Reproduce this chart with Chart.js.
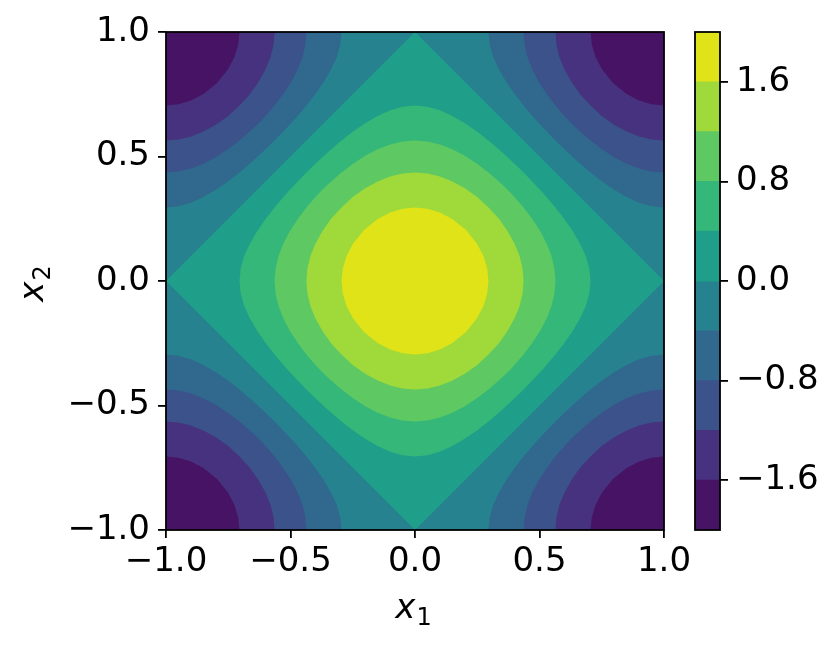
<!DOCTYPE html>
<html>
<head>
<meta charset="utf-8">
<script src="https://cdn.jsdelivr.net/npm/chart.js@4/dist/chart.umd.min.js"></script>
<style>
  html, body { margin: 0; padding: 0; background: #fff; }
  #wrap { position: relative; width: 830px; height: 664px; }
  #main { position: absolute; left: 0; top: 0; }
  #cbar { position: absolute; left: 680px; top: 0; }
</style>
</head>
<body>
<div id="wrap">
  <canvas id="main" width="830" height="664"></canvas>
  <canvas id="cbar" width="150" height="664"></canvas>
</div>
<script>
/* ------------------------------------------------------------
   data: contour levels, band colours, ticks
------------------------------------------------------------ */
const levels = [-2, -1.6, -1.2, -0.8, -0.4, 0, 0.4, 0.8, 1.2, 1.6, 2];
const bandColors = ['#471365', '#46327e', '#3b528b', '#31688e', '#26828e',
                    '#1f9e89', '#35b779', '#5ec962', '#9fda3a', '#dfe318'];
const axisTicks = [-1, -0.5, 0, 0.5, 1];
const cbarTicks = [-1.6, -0.8, 0, 0.8, 1.6];
const xLabel = ['x', '1'];
const yLabel = ['x', '2'];

// level curves, quadrant x1>=0, x2>=0 only (the plot is symmetric)
const curveM16 = [[0.705, 1], [0.71, 0.95], [0.725, 0.9], [0.751, 0.85], [0.795, 0.795],
                  [0.85, 0.751], [0.9, 0.725], [0.95, 0.71], [1, 0.705]];
const curveM12 = [[0.564, 1], [0.568, 0.95], [0.58, 0.9], [0.6, 0.85], [0.628, 0.8], [0.663, 0.75],
                  [0.705, 0.705], [0.75, 0.663], [0.8, 0.628], [0.85, 0.6], [0.9, 0.58],
                  [0.95, 0.568], [1, 0.564]];
const curveM08 = [[0.436, 1], [0.44, 0.95], [0.452, 0.9], [0.471, 0.85], [0.497, 0.8], [0.53, 0.75],
                  [0.568, 0.7], [0.612, 0.65], [0.631, 0.631], [0.65, 0.612], [0.7, 0.568],
                  [0.75, 0.53], [0.8, 0.497], [0.85, 0.471], [0.9, 0.452], [0.95, 0.44], [1, 0.436]];
const curveM04 = [[0.295, 1], [0.3, 0.95], [0.314, 0.9], [0.337, 0.85], [0.366, 0.8], [0.401, 0.75],
                  [0.44, 0.7], [0.483, 0.65], [0.529, 0.6], [0.564, 0.564], [0.6, 0.529],
                  [0.65, 0.483], [0.7, 0.44], [0.75, 0.401], [0.8, 0.366], [0.85, 0.337],
                  [0.9, 0.314], [0.95, 0.3], [1, 0.295]];
const curve00 = [[0, 1], [1, 0]];
const curve04 = [[0, 0.705], [0.05, 0.7], [0.1, 0.686], [0.15, 0.663], [0.2, 0.634], [0.25, 0.599],
                 [0.3, 0.56], [0.35, 0.517], [0.4, 0.471], [0.436, 0.436], [0.471, 0.4],
                 [0.517, 0.35], [0.56, 0.3], [0.599, 0.25], [0.634, 0.2], [0.663, 0.15],
                 [0.686, 0.1], [0.7, 0.05], [0.705, 0]];
const curve08 = [[0, 0.564], [0.05, 0.56], [0.1, 0.548], [0.15, 0.529], [0.2, 0.503], [0.25, 0.47],
                 [0.3, 0.432], [0.35, 0.388], [0.369, 0.369], [0.388, 0.35], [0.432, 0.3],
                 [0.47, 0.25], [0.503, 0.2], [0.529, 0.15], [0.548, 0.1], [0.56, 0.05], [0.564, 0]];
const curve12 = [[0, 0.436], [0.05, 0.432], [0.1, 0.42], [0.15, 0.4], [0.2, 0.372], [0.25, 0.337],
                 [0.295, 0.295], [0.337, 0.25], [0.372, 0.2], [0.4, 0.15], [0.42, 0.1],
                 [0.432, 0.05], [0.436, 0]];
const curve16 = [[0, 0.295], [0.05, 0.29], [0.1, 0.275], [0.15, 0.249], [0.205, 0.205],
                 [0.249, 0.15], [0.275, 0.1], [0.29, 0.05], [0.295, 0]];

// region above level i+1 is bounded by curves[i]
const curves = [curveM16, curveM12, curveM08, curveM04, curve00, curve04, curve08, curve12, curve16];

/* ------------------------------------------------------------
   helpers
------------------------------------------------------------ */
// one quadrant -> closed outline through all four quadrants
function mirror(q) {
    const rev = q.slice().reverse();
    return [].concat(
        q.map(p => ({ x: p[0], y: p[1] })),
        rev.map(p => ({ x: p[0], y: -p[1] })),
        q.map(p => ({ x: -p[0], y: -p[1] })),
        rev.map(p => ({ x: -p[0], y: p[1] }))
    );
}

const fmt = v => (v < 0 ? '\u2212' : '') + Math.abs(v).toFixed(1);
const tickFont = { family: 'DejaVu Sans', size: 34 };

function mathLabel(ctx, parts, cx, base) {
    ctx.font = 'italic 34px "DejaVu Sans"';
    const w1 = ctx.measureText(parts[0]).width;
    ctx.font = '24px "DejaVu Sans"';
    const w2 = ctx.measureText(parts[1]).width;
    const x0 = cx - (w1 + w2) / 2;
    ctx.fillStyle = '#000';
    ctx.textAlign = 'left';
    ctx.textBaseline = 'alphabetic';
    ctx.font = 'italic 34px "DejaVu Sans"';
    ctx.fillText(parts[0], x0, base);
    ctx.font = '24px "DejaVu Sans"';
    ctx.fillText(parts[1], x0 + w1 + 1, base + 7);
}

/* ------------------------------------------------------------
   plugins
------------------------------------------------------------ */
const contourFill = {
    id: 'contourFill',
    beforeDatasetsDraw(chart) {
        const a = chart.chartArea, ctx = chart.ctx;
        ctx.save();
        ctx.fillStyle = bandColors[0];
        ctx.fillRect(a.left, a.top, a.right - a.left, a.bottom - a.top);
        ctx.restore();
    },
    beforeDatasetDraw(chart, args) {
        const a = chart.chartArea, ctx = chart.ctx;
        const sx = chart.scales.x, sy = chart.scales.y;
        const ds = chart.data.datasets[args.index];
        ctx.save();
        ctx.beginPath();
        ctx.rect(a.left, a.top, a.right - a.left, a.bottom - a.top);
        ctx.clip();
        ctx.beginPath();
        ds.data.forEach((p, k) => {
            const px = sx.getPixelForValue(p.x), py = sy.getPixelForValue(p.y);
            if (k === 0) ctx.moveTo(px, py); else ctx.lineTo(px, py);
        });
        ctx.closePath();
        ctx.fillStyle = ds.backgroundColor;
        ctx.fill();
        ctx.restore();
    },
    afterDraw(chart) {
        const a = chart.chartArea, ctx = chart.ctx;
        ctx.save();
        ctx.strokeStyle = '#000';
        ctx.lineWidth = 1.8;
        ctx.strokeRect(a.left, a.top, a.right - a.left, a.bottom - a.top);
        mathLabel(ctx, xLabel, 413, 618);
        ctx.translate(43, 284);
        ctx.rotate(-Math.PI / 2);
        mathLabel(ctx, yLabel, 0, 0);
        ctx.restore();
    }
};

const frame = {
    id: 'frame',
    afterDraw(chart) {
        const a = chart.chartArea, ctx = chart.ctx;
        ctx.save();
        ctx.strokeStyle = '#000';
        ctx.lineWidth = 1.8;
        ctx.strokeRect(a.left, a.top, a.right - a.left, a.bottom - a.top);
        ctx.restore();
    }
};

/* ------------------------------------------------------------
   main contour chart
------------------------------------------------------------ */
const axisOpts = (size, pad) => ({
    type: 'linear',
    min: -1,
    max: 1,
    afterBuildTicks: s => { s.ticks = axisTicks.map(v => ({ value: v })); },
    ticks: { callback: fmt, color: '#000', font: tickFont, padding: pad, maxRotation: 0, autoSkip: false },
    grid: { drawOnChartArea: false, tickLength: 8, color: '#000', lineWidth: 1.8 },
    border: { display: false },
    afterFit: size
});

new Chart(document.getElementById('main'), {
    type: 'line',
    data: {
        datasets: curves.map((c, i) => ({
            data: mirror(c),
            backgroundColor: bandColors[i + 1],
            borderColor: 'rgba(0,0,0,0)',
            showLine: false,
            pointRadius: 0,
            order: curves.length - i
        }))
    },
    options: {
        responsive: false,
        animation: false,
        devicePixelRatio: 1,
        layout: { padding: { left: 0, right: 166, top: 32, bottom: 0 } },
        plugins: { legend: { display: false }, tooltip: { enabled: false } },
        scales: {
            x: axisOpts(s => { s.height = 134; }, 4),
            y: axisOpts(s => { s.width = 166; }, 8)
        }
    },
    plugins: [contourFill]
});

/* ------------------------------------------------------------
   colour bar: each bar runs from the bottom level up to its band's top,
   shorter ones drawn over taller ones so no seams show
------------------------------------------------------------ */
new Chart(document.getElementById('cbar'), {
    type: 'bar',
    data: {
        labels: [''],
        datasets: bandColors.map((c, i) => ({
            data: [[levels[0], levels[i + 1]]],
            backgroundColor: c,
            borderWidth: 0,
            barPercentage: 1,
            categoryPercentage: 1
        }))
    },
    options: {
        responsive: false,
        animation: false,
        devicePixelRatio: 1,
        layout: { padding: { left: 15, right: 0, top: 32, bottom: 134 } },
        plugins: { legend: { display: false }, tooltip: { enabled: false } },
        scales: {
            x: { display: false, stacked: true },
            y: {
                position: 'right',
                min: levels[0],
                max: levels[levels.length - 1],
                stacked: false,
                afterBuildTicks: s => { s.ticks = cbarTicks.map(v => ({ value: v })); },
                ticks: { callback: fmt, color: '#000', font: tickFont, padding: 8 },
                grid: { drawOnChartArea: false, tickLength: 8, color: '#000', lineWidth: 1.8 },
                border: { display: false },
                afterFit: s => { s.width = 110; }
            }
        }
    },
    plugins: [frame]
});
</script>
</body>
</html>
